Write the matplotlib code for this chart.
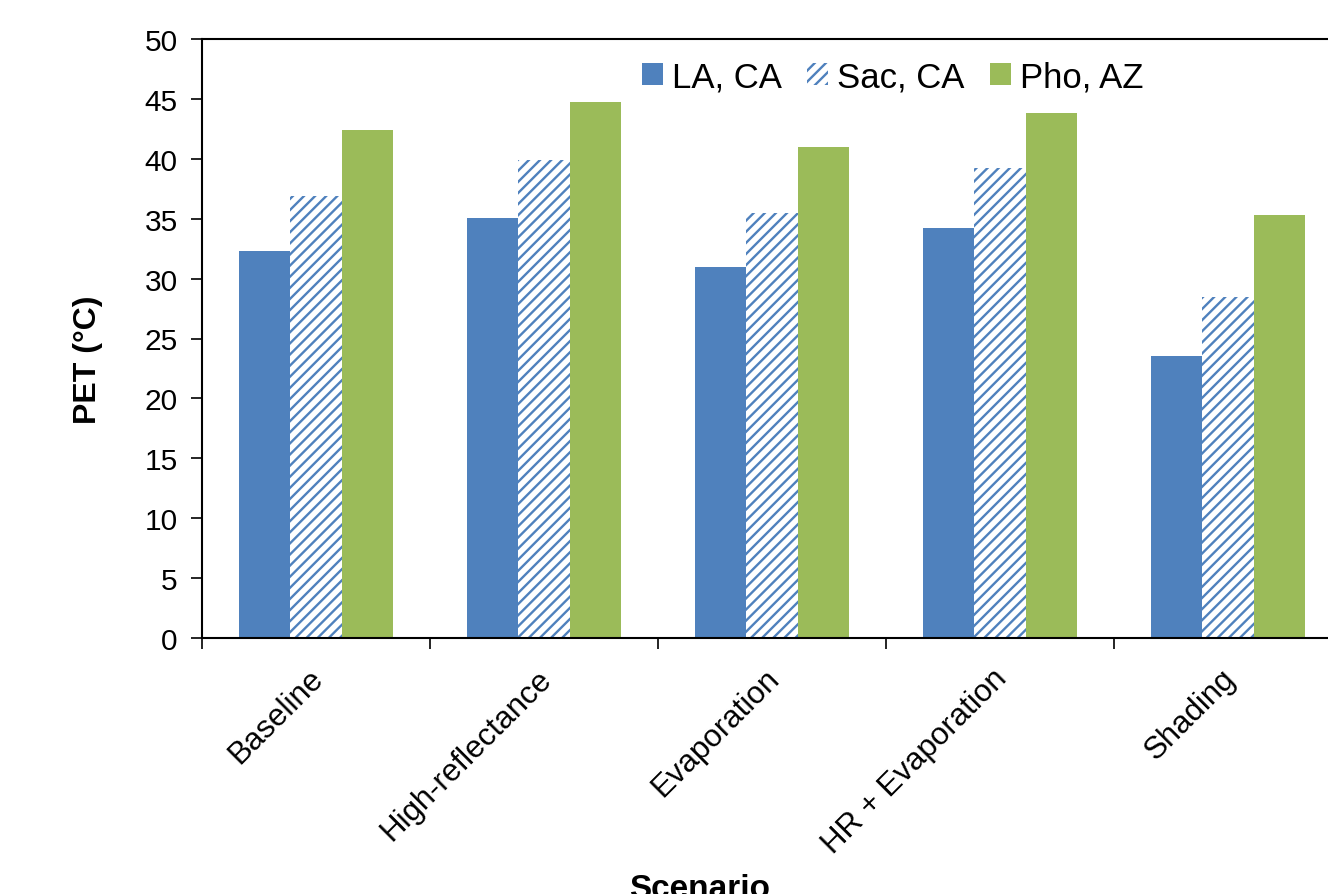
import matplotlib
matplotlib.use("Agg")
import matplotlib.pyplot as plt
import matplotlib.transforms as mtransforms
import numpy as np

plt.rcParams['font.family'] = ['Liberation Sans', 'DejaVu Sans']
plt.rcParams['hatch.linewidth'] = 1.7

scenarios = ["Baseline", "High-reflectance", "Evaporation", "HR + Evaporation", "Shading"]
la_ca = [32.3, 35.1, 31.0, 34.2, 23.5]
sac_ca = [36.9, 39.9, 35.5, 39.2, 28.5]
pho_az = [42.4, 44.7, 41.0, 43.8, 35.3]
series_names = ["LA, CA", "Sac, CA", "Pho, AZ"]
yticks = [0, 5, 10, 15, 20, 25, 30, 35, 40, 45, 50]

blue = "#4F81BD"
green = "#9BBB59"

fig = plt.figure(figsize=(13.28, 8.95), dpi=100)
ax = fig.add_axes([202/1328, 1-639/895, (1342-202)/1328, (639-40)/895])

x = np.arange(len(scenarios))
w = 0.2237
ax.bar(x - w, la_ca, w, color=blue, label=series_names[0], linewidth=0)
ax.bar(x, sac_ca, w, facecolor="white", edgecolor=blue, hatch="///", linewidth=0, label=series_names[1])
ax.bar(x + w, pho_az, w, color=green, label=series_names[2], linewidth=0)

ax.set_xlim(-0.5, len(scenarios) - 0.5)
ax.set_ylim(0, 50)
ax.set_yticks(yticks)
ax.set_yticklabels([str(v) for v in yticks], fontsize=21.5)
ax.tick_params(axis='y', direction='out', length=8, width=1.2, pad=9.5)

ax.set_xticks(x)
ax.set_xticklabels(scenarios, rotation=45, ha='right', rotation_mode='anchor', fontsize=22.5)
ax.tick_params(axis='x', which='major', length=0, pad=18)
offset = mtransforms.ScaledTranslation(-8/100, 0, fig.dpi_scale_trans)
for lab in ax.get_xticklabels():
    lab.set_transform(lab.get_transform() + offset)
ax.set_xticks(np.arange(len(scenarios) + 1) - 0.5, minor=True)
ax.tick_params(axis='x', which='minor', direction='out', length=8, width=1.2)

for s in ax.spines.values():
    s.set_linewidth(1.5)
    s.set_color("black")

ax.set_ylabel("PET (°C)", fontsize=23, fontweight='bold')
ax.yaxis.set_label_coords((103-202)/1140, (639-360)/599)
fig.text(700/1328, 1-874/895, "Scenario", fontsize=24, fontweight='bold', ha='center', va='top')

leg = ax.legend(loc='center left', bbox_to_anchor=((642-202)/1140, (639-78)/599), ncol=3, frameon=False,
                fontsize=25, handlelength=0.6, handleheight=0.6, handletextpad=0.25,
                columnspacing=0.75, borderaxespad=0, borderpad=0)

fig.savefig("out.png", dpi=100)
